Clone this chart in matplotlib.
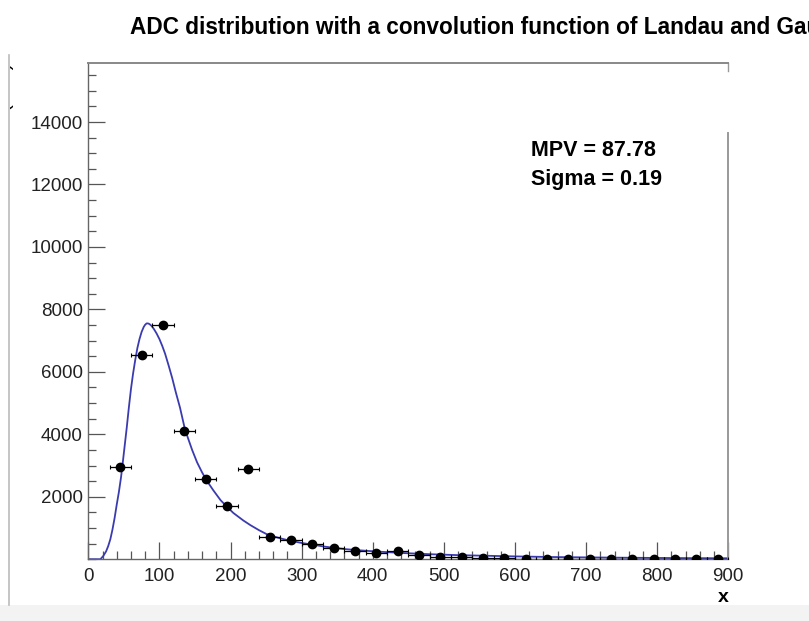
import numpy as np
import matplotlib.pyplot as plt
from matplotlib.ticker import MultipleLocator
from matplotlib.lines import Line2D
from matplotlib.patches import Rectangle

plt.rcParams['font.family'] = ['Liberation Sans', 'DejaVu Sans']

# histogram points (bin centres, width 30)
bin_x = [45, 75, 105, 135, 165, 195, 225, 255, 285, 315, 345, 375, 405, 435,
         465, 495, 525, 555, 585, 615, 645, 675, 705, 735, 765, 795, 825, 855, 885]
counts = [2960, 6540, 7500, 4100, 2560, 1710, 2880, 720, 615, 480, 350, 255, 200, 250,
          145, 80, 55, 35, 40, 15, 12, 12, 5, 10, 5, 5, 5, 5, 5]
half_width = 15

# fitted Landau x Gauss curve
fit_x = [0, 17, 21, 25, 28, 31, 34, 37, 40, 43, 46, 48, 51, 54, 57, 60, 63, 66, 69,
         72, 75, 78, 80, 82, 84, 86, 89, 92, 96, 100, 104, 108, 113, 118, 123, 129,
         136, 146, 153, 160, 167, 176, 186, 195, 204, 218, 228, 240, 251, 268, 284,
         300, 317, 330, 345, 360, 378, 406, 440, 480, 520, 560, 600, 650, 700, 750,
         800, 850, 900]
fit_y = [0, 0, 100, 250, 420, 640, 950, 1320, 1750, 2150, 2620, 3000, 3600, 4200,
         4850, 5450, 5950, 6380, 6760, 7050, 7280, 7440, 7510, 7550, 7550, 7530, 7470,
         7380, 7230, 7050, 6830, 6580, 6200, 5800, 5350, 4850, 4150, 3500, 3100, 2780,
         2500, 2200, 1890, 1680, 1480, 1240, 1090, 930, 800, 680, 590, 520, 460, 410,
         365, 325, 290, 245, 200, 160, 130, 110, 90, 70, 58, 48, 40, 34, 30]

mpv = 87.78
sigma = 0.19

fig = plt.figure(figsize=(8.09, 6.21), dpi=100)
ax = fig.add_axes([88.3/809, 61.8/621, 640/809, 495.9/621])

ax.plot(fit_x, fit_y, color='#3b3bb0', lw=1.3, zorder=2)
ax.errorbar(bin_x, counts, xerr=half_width, fmt='o', color='black', ms=6,
            elinewidth=0.9, capsize=1.5, capthick=0.8, zorder=3)

ax.set_xlim(0, 900)
ax.set_ylim(0, 15880)
ax.xaxis.set_major_locator(MultipleLocator(100))
ax.xaxis.set_minor_locator(MultipleLocator(20))
ax.yaxis.set_major_locator(MultipleLocator(2000))
ax.yaxis.set_minor_locator(MultipleLocator(500))
ax.set_yticks(np.arange(2000, 15000, 2000))
ax.tick_params(which='both', direction='in', color='#555555', width=0.9,
               labelsize=13.5, labelcolor='#222222')
ax.tick_params(which='major', length=12)
ax.tick_params(which='minor', length=6)
ax.tick_params(axis='x', pad=6)
ax.tick_params(axis='y', pad=4)

for s in ['left', 'bottom']:
    ax.spines[s].set_color('#666666')
    ax.spines[s].set_linewidth(1.0)
ax.spines['right'].set_visible(False)
ax.spines['top'].set_color('#888888')
ax.spines['top'].set_linewidth(1.4)
ax.axvline(900, ymin=0, ymax=0.86, color='#999999', lw=1.4, clip_on=False)
ax.axvline(900, ymin=0.985, ymax=1.0, color='#999999', lw=1.0, clip_on=False)

ax.set_xlabel('x', loc='right', fontsize=14, fontweight='bold', labelpad=3)

ax.text(0.692, 0.813, f'MPV = {mpv}', transform=ax.transAxes, fontsize=15.5,
        fontweight='bold', va='baseline')
ax.text(0.692, 0.755, f'Sigma = {sigma}', transform=ax.transAxes, fontsize=15.5,
        fontweight='bold', va='baseline')

fig.text(130/809, 1 - 27/621, 'ADC distribution with a convolution function of Landau and Gauss',
         fontsize=16.3, fontweight='bold', va='center', ha='left')

# partially visible y title (cut off by the screenshot) and screenshot frame
ylab = fig.text(14.5/809, 1 - 122/621, 'Entries (a.u.)', rotation=90, ha='right',
                va='center', fontsize=15)
ylab.set_clip_path(Rectangle((9.5/809, 0), 1, 1, transform=fig.transFigure))
fig.add_artist(Line2D([8.5/809, 8.5/809], [1 - 605/621, 1 - 55/621], color='#bbbbbb', lw=1.2))
fig.add_artist(Rectangle((0, 0), 1, 16/621, color='#f3f3f3', lw=0))

fig.savefig('out.png', dpi=100)
